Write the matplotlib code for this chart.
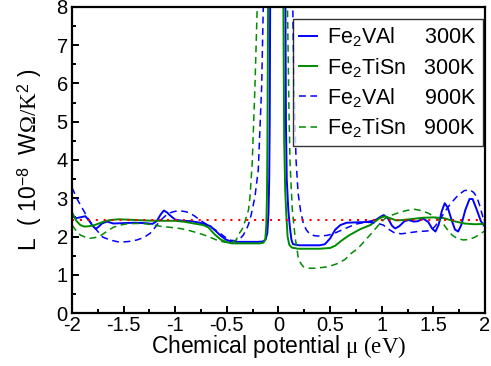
import numpy as np
import matplotlib
matplotlib.use('Agg')
import matplotlib.pyplot as plt
from matplotlib.ticker import MultipleLocator

plt.rcParams['font.family'] = ['Liberation Sans', 'DejaVu Sans']
plt.rcParams['mathtext.fontset'] = 'custom'
plt.rcParams['mathtext.rm'] = 'Liberation Serif'
plt.rcParams['mathtext.sf'] = 'Liberation Sans'
plt.rcParams['mathtext.it'] = 'Liberation Serif:italic'
plt.rcParams['axes.unicode_minus'] = False

# Lorenz number L(mu) in units of 1e-8 W Ohm / K^2
mu_v300 = [-2.00, -1.96, -1.92, -1.87, -1.83, -1.80, -1.77, -1.74, -1.71, -1.66,
           -1.60, -1.50, -1.40, -1.30, -1.22, -1.18, -1.14, -1.11, -1.08, -1.05,
           -1.00, -0.93, -0.85, -0.78, -0.72, -0.66, -0.61, -0.56, -0.51, -0.46,
           -0.40, -0.30, -0.20, -0.15, -0.125, -0.108, -0.097, -0.090, -0.085, -0.080,
           0.066, 0.072, 0.080, 0.095, 0.110, 0.125, 0.14, 0.20, 0.30, 0.40,
           0.45, 0.50, 0.55, 0.60, 0.66, 0.76, 0.86, 0.94, 0.99, 1.02,
           1.06, 1.10, 1.13, 1.17, 1.22, 1.26, 1.31, 1.35, 1.40, 1.45,
           1.49, 1.52, 1.55, 1.58, 1.61, 1.64, 1.68, 1.71, 1.74, 1.77,
           1.81, 1.85, 1.88, 1.92, 1.96, 2.00]
L_v300 = [2.55, 2.48, 2.50, 2.53, 2.40, 2.28, 2.20, 2.26, 2.34, 2.39,
          2.34, 2.35, 2.36, 2.35, 2.33, 2.40, 2.58, 2.68, 2.63, 2.55,
          2.44, 2.41, 2.40, 2.37, 2.33, 2.27, 2.15, 2.02, 1.92, 1.87,
          1.86, 1.86, 1.86, 1.87, 1.92, 2.10, 2.60, 3.50, 5.00, 8.60,
          8.60, 5.00, 3.50, 2.70, 2.25, 1.92, 1.80, 1.77, 1.77, 1.77,
          1.80, 1.95, 2.18, 2.30, 2.36, 2.37, 2.38, 2.43, 2.52, 2.56,
          2.47, 2.28, 2.21, 2.27, 2.40, 2.43, 2.39, 2.40, 2.47, 2.38,
          2.20, 2.13, 2.30, 2.65, 2.87, 2.75, 2.40, 2.18, 2.13, 2.30,
          2.70, 2.98, 2.98, 2.70, 2.40, 2.25]

mu_t300 = [-2.00, -1.96, -1.92, -1.88, -1.83, -1.78, -1.73, -1.68, -1.63, -1.55,
           -1.45, -1.30, -1.15, -1.00, -0.90, -0.82, -0.73, -0.68, -0.62, -0.56,
           -0.50, -0.45, -0.30, -0.18, -0.145, -0.128, -0.118, -0.112, -0.107, -0.100,
           0.046, 0.055, 0.065, 0.075, 0.088, 0.105, 0.13, 0.19, 0.30, 0.40,
           0.50, 0.55, 0.60, 0.64, 0.69, 0.79, 0.89, 0.95, 0.98, 1.03,
           1.08, 1.14, 1.20, 1.30, 1.40, 1.50, 1.60, 1.70, 1.80, 1.90, 2.00]
L_t300 = [2.63, 2.42, 2.30, 2.26, 2.27, 2.30, 2.35, 2.40, 2.43, 2.45,
          2.44, 2.42, 2.41, 2.41, 2.38, 2.34, 2.30, 2.24, 2.06, 1.92,
          1.85, 1.82, 1.82, 1.82, 1.84, 1.92, 2.30, 3.00, 4.50, 8.60,
          8.60, 4.50, 3.20, 2.60, 2.00, 1.78, 1.71, 1.68, 1.68, 1.68,
          1.70, 1.76, 1.87, 1.95, 2.04, 2.19, 2.30, 2.42, 2.48, 2.53,
          2.48, 2.42, 2.43, 2.46, 2.49, 2.50, 2.48, 2.40, 2.34, 2.32, 2.33]

mu_v900 = [-2.00, -1.95, -1.89, -1.84, -1.79, -1.74, -1.70, -1.62, -1.535, -1.45,
           -1.37, -1.30, -1.245, -1.20, -1.15, -1.10, -1.05, -1.00, -0.95, -0.90,
           -0.857, -0.81, -0.76, -0.71, -0.663, -0.60, -0.55, -0.50, -0.46, -0.42,
           -0.37, -0.34, -0.30, -0.276, -0.25, -0.228, -0.196, -0.163, -0.143,
           0.135, 0.150, 0.170, 0.190, 0.215, 0.24, 0.27, 0.305, 0.35, 0.40,
           0.47, 0.53, 0.58, 0.63, 0.70, 0.76, 0.82, 0.886, 0.95, 1.015,
           1.06, 1.12, 1.19, 1.27, 1.35, 1.42, 1.48, 1.52, 1.56, 1.60,
           1.645, 1.69, 1.74, 1.80, 1.855, 1.89, 1.92, 1.95, 1.98, 2.00]
L_v900 = [3.28, 2.98, 2.69, 2.45, 2.26, 2.10, 1.98, 1.90, 1.85, 1.87,
          1.91, 1.98, 2.08, 2.22, 2.40, 2.53, 2.62, 2.66, 2.67, 2.65,
          2.61, 2.53, 2.43, 2.34, 2.26, 2.15, 2.05, 1.95, 1.90, 1.89,
          1.95, 2.04, 2.25, 2.43, 2.75, 3.04, 3.74, 5.92, 8.60,
          8.60, 6.00, 4.00, 3.13, 2.65, 2.35, 2.17, 2.06, 2.02, 2.01,
          2.03, 2.07, 2.13, 2.19, 2.27, 2.33, 2.36, 2.37, 2.35, 2.30,
          2.20, 2.10, 2.07, 2.10, 2.13, 2.14, 2.16, 2.28, 2.43, 2.60,
          2.78, 2.93, 3.08, 3.20, 3.22, 3.15, 3.04, 2.80, 2.50, 2.32]

mu_t900 = [-2.00, -1.96, -1.92, -1.87, -1.83, -1.78, -1.73, -1.67, -1.60, -1.53,
           -1.47, -1.39, -1.31, -1.23, -1.15, -1.05, -0.954, -0.87, -0.79, -0.72,
           -0.663, -0.62, -0.583, -0.52, -0.45, -0.41, -0.39, -0.35, -0.32, -0.29,
           -0.276, -0.255, -0.228, -0.200,
           0.084, 0.100, 0.111, 0.118, 0.134, 0.160, 0.19, 0.215, 0.24, 0.30,
           0.354, 0.42, 0.48, 0.58, 0.644, 0.70, 0.77, 0.84, 0.90, 0.97,
           1.03, 1.10, 1.16, 1.24, 1.32, 1.38, 1.45, 1.52, 1.58, 1.63,
           1.68, 1.73, 1.79, 1.84, 1.90, 1.95, 2.00]
L_t900 = [2.30, 2.15, 2.04, 1.98, 1.95, 1.97, 2.01, 2.12, 2.24, 2.30,
          2.33, 2.34, 2.34, 2.31, 2.27, 2.24, 2.21, 2.16, 2.10, 2.04,
          1.98, 1.93, 1.89, 1.85, 1.85, 1.90, 2.04, 2.20, 2.43, 2.70,
          3.04, 3.90, 5.92, 8.60,
          8.60, 5.50, 4.00, 3.56, 2.69, 2.00, 1.47, 1.30, 1.21, 1.17,
          1.17, 1.19, 1.21, 1.30, 1.40, 1.55, 1.69, 1.90, 2.08, 2.30,
          2.47, 2.56, 2.62, 2.68, 2.71, 2.68, 2.61, 2.50, 2.39, 2.20,
          2.04, 1.95, 1.91, 1.92, 1.98, 2.06, 2.15]

L_wf = 2.44  # degenerate limit of the Lorenz number

names = [r'Fe$_{\mathsf{2}}$VAl', r'Fe$_{\mathsf{2}}$TiSn',
         r'Fe$_{\mathsf{2}}$VAl', r'Fe$_{\mathsf{2}}$TiSn']
temps = ['300K', '300K', '900K', '900K']
pads = ['     ', '   ', '     ', '   ']

fig = plt.figure(figsize=(4.91, 3.66), dpi=100)
ax = fig.add_axes([0.1466, 0.1448, 0.8412, 0.8361])

blue = '#0000ff'
green = '#008c00'
ax.plot(mu_v300, L_v300, color=blue, lw=1.4, label=names[0] + pads[0] + temps[0])
ax.plot(mu_t300, L_t300, color=green, lw=1.4, label=names[1] + pads[1] + temps[1])
ax.plot(mu_v900, L_v900, color=blue, lw=1.1, dashes=(4.5, 3),
        label=names[2] + pads[2] + temps[2])
ax.plot(mu_t900, L_t900, color=green, lw=1.1, dashes=(4.5, 3),
        label=names[3] + pads[3] + temps[3])
ax.axhline(L_wf, color='red', lw=1.5, dashes=(1, 2.8))

ax.set_xlim(-2, 2)
ax.set_ylim(0, 8)
ax.set_xticks([-2, -1.5, -1, -0.5, 0, 0.5, 1, 1.5, 2])
ax.set_xticklabels(['-2', '-1.5', '-1', '-0.5', '0', '0.5', '1', '1.5', '2'])
ax.xaxis.set_minor_locator(MultipleLocator(0.25))
ax.yaxis.set_major_locator(MultipleLocator(1))
ax.yaxis.set_minor_locator(MultipleLocator(0.5))
ax.tick_params(which='both', direction='in', top=False, right=False,
               labelsize=14.5, width=1.4)
ax.tick_params(which='major', length=5)
ax.tick_params(axis='x', which='major', pad=2)
ax.tick_params(axis='y', which='major', pad=3)
ax.tick_params(which='minor', length=3)
for s in ax.spines.values():
    s.set_linewidth(1.6)

ax.set_xlabel(r'Chemical potential $\mathrm{\mu\ (eV)}$', fontsize=16.5, labelpad=-1)
ax.set_ylabel(r'L  ( 10$^{\mathsf{-8}}$  W$\mathrm{\Omega/K}^{\mathsf{2}}$ )',
              fontsize=16.5, labelpad=9)

leg = ax.legend(loc='upper right', bbox_to_anchor=(0.995, 0.961), borderaxespad=0,
                fontsize=15.5, frameon=True, fancybox=False, handlelength=0.85,
                handletextpad=0.45, labelspacing=0.34, borderpad=0.3)
leg.get_frame().set_edgecolor('black')
leg.get_frame().set_linewidth(1.0)

fig.savefig('out.png', dpi=100)
